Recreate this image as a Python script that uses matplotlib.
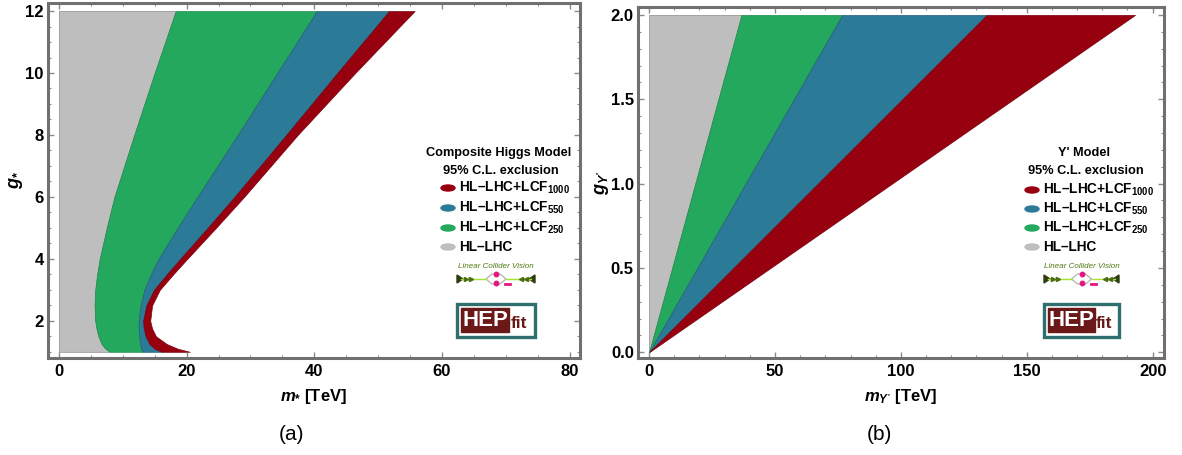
import matplotlib
matplotlib.use("Agg")
import matplotlib.pyplot as plt
from matplotlib.patches import Rectangle, Ellipse, Polygon
from matplotlib.ticker import MultipleLocator

plt.rcParams["font.family"] = ["Liberation Sans", "DejaVu Sans"]
plt.rcParams["mathtext.fontset"] = "custom"
plt.rcParams["mathtext.rm"] = "Liberation Sans:bold"
plt.rcParams["mathtext.bf"] = "Liberation Sans:bold"
plt.rcParams["mathtext.it"] = "Liberation Sans:bold:italic"

# --- data ---------------------------------------------------------------------------
# (a) composite Higgs: right edge of each excluded region, m_* [TeV] vs g_*
g_star = [1, 1.1, 1.25, 1.5, 1.75, 2, 2.5, 3, 3.5, 4, 5, 6, 8, 10, 12]
m_hl = [8.0, 7.3, 6.7, 6.2, 5.9, 5.7, 5.6, 5.7, 6.0, 6.4, 7.5, 8.7, 11.8, 15.0, 18.3]
m_250 = [13.2, 12.9, 12.7, 12.6, 12.5, 12.5, 12.8, 13.4, 14.4, 15.6, 18.6, 21.7, 28.0, 34.2, 40.4]
m_550 = [16.1, 15.0, 14.2, 13.6, 13.3, 13.2, 13.7, 14.9, 16.9, 19.0, 23.3, 27.5, 35.6, 43.6, 51.7]
m_1000 = [20.5, 18.6, 16.9, 15.2, 14.6, 14.3, 14.6, 15.8, 17.9, 20.1, 24.6, 29.0, 37.4, 46.4, 55.7]

# (b) Y' model: wedges from the origin, edge at g_Y' = 0 and 2
g_y = [0, 2]
my_hl = [0, 36.7]
my_250 = [0, 76.7]
my_550 = [0, 134.1]
my_1000 = [0, 193.0]

labels = ["HL\u2013LHC+LCF$_{1000}$", "HL\u2013LHC+LCF$_{550}$",
          "HL\u2013LHC+LCF$_{250}$", "HL\u2013LHC"]
RED, BLUE, GREEN, GRAY = "#96000f", "#2b7a98", "#24a85d", "#bebebe"
colors = [RED, BLUE, GREEN, GRAY]
FRAME = "#707070"
W, H = 1182, 455

fig = plt.figure(figsize=(W / 100, H / 100), dpi=100)
axa = fig.add_axes([48 / W, 1 - 358 / H, 532 / W, 355 / H])
axb = fig.add_axes([638 / W, 1 - 358 / H, 526 / W, 351 / H])


def fill_regions(ax, y, edges):
    left = [0] * len(y)
    fills = [GRAY, GREEN, BLUE, RED]
    lines = ["#8c8c8c", "#1d8a4c", "#235f77", "#7a000c"]
    for right, c, lc in zip(edges, fills, lines):
        ax.fill_betweenx(y, left, right, color=c, edgecolor=lc, linewidth=0.5)
        left = right


fill_regions(axa, g_star, [m_hl, m_250, m_550, m_1000])
fill_regions(axb, g_y, [my_hl, my_250, my_550, my_1000])

axa.set_xlim(-1.7, 81.6)
axa.set_ylim(0.8, 12.26)
axa.xaxis.set_major_locator(MultipleLocator(20))
axa.xaxis.set_minor_locator(MultipleLocator(5))
axa.yaxis.set_major_locator(MultipleLocator(2))
axa.yaxis.set_minor_locator(MultipleLocator(0.5))
axa.set_xlabel(r"$m_{*}$ [TeV]", fontsize=12, fontweight="bold", labelpad=6)
axa.set_ylabel(r"$g_{*}$", fontsize=13, labelpad=0)

axb.set_xlim(-4.4, 204.5)
axb.set_ylim(-0.034, 2.047)
axb.xaxis.set_major_locator(MultipleLocator(50))
axb.xaxis.set_minor_locator(MultipleLocator(10))
axb.yaxis.set_major_locator(MultipleLocator(0.5))
axb.yaxis.set_minor_locator(MultipleLocator(0.1))
axb.set_yticks([0, 0.5, 1.0, 1.5, 2.0])
axb.set_yticklabels(["0.0", "0.5", "1.0", "1.5", "2.0"])
axb.set_xlabel(r"$m_{Y'}$ [TeV]", fontsize=12, fontweight="bold", labelpad=6)
axb.set_ylabel(r"$g_{Y'}$", fontsize=13, labelpad=0)

for ax in (axa, axb):
    for s in ax.spines.values():
        s.set_color(FRAME)
        s.set_linewidth(2.2)
    ax.tick_params(which="both", direction="in", top=True, right=True, color="#8a8a8a")
    ax.tick_params(which="major", length=4, width=1, labelsize=12, pad=4)
    ax.tick_params(which="minor", length=2, width=0.8)
    ax.tick_params(axis="y", pad=3)
    for t in ax.get_xticklabels() + ax.get_yticklabels():
        t.set_fontweight("bold")

# overlay in pixel coordinates for legends, logos and panel tags
ov = fig.add_axes([0, 0, 1, 1], zorder=5)
ov.set_xlim(0, W)
ov.set_ylim(H, 0)
ov.axis("off")


def legend_block(title, title_x, mark_x, text_x, rows_y, logo_x0, logo_x1):
    ov.text(title_x, 153, title, ha="center", va="center", fontsize=9.2, fontweight="bold")
    ov.text(title_x + 2, 171, "95% C.L. exclusion", ha="center", va="center",
            fontsize=9.2, fontweight="bold")
    for lab, c, y in zip(labels, colors, rows_y):
        ov.add_patch(Ellipse((mark_x, y), 14, 6, color=c))
        ov.text(text_x, y, lab, ha="left", va="center", fontsize=9.8, fontweight="bold")

    # Linear Collider Vision logo
    cx = (logo_x0 + logo_x1) / 2
    ov.text(cx, 267, "Linear Collider Vision", ha="center", va="center",
            fontsize=5.8, style="italic", color="#4f7a12")
    y = 279
    ov.plot([logo_x0 + 4, cx - 10], [y, y], color="#a6e22e", lw=1.0)
    ov.plot([cx + 10, logo_x1 - 4], [y, y], color="#a6e22e", lw=1.0)
    ov.add_patch(Polygon([[cx - 10, y], [cx - 4, y - 5], [cx + 4, y - 5], [cx + 10, y],
                          [cx + 4, y + 5], [cx - 4, y + 5]], closed=True,
                         fill=False, edgecolor="#aaaaaa", lw=0.8))
    ov.add_patch(Polygon([[logo_x0, y - 4], [logo_x0 + 6, y], [logo_x0, y + 4]],
                         color="#2f3d10"))
    ov.add_patch(Polygon([[logo_x1, y - 4], [logo_x1 - 6, y], [logo_x1, y + 4]],
                         color="#2f3d10"))
    for dx in (9, 14):
        ov.plot([logo_x0 + dx], [y], marker=">", ms=3, color="#4a6e14")
        ov.plot([logo_x1 - dx], [y], marker="<", ms=3, color="#4a6e14")
    ov.plot([cx, cx], [y - 5, y + 4], "o", ms=3.2, color="#e6157f")
    ov.plot([cx + 9, cx + 14], [y + 5, y + 5], color="#e6157f", lw=2)

    # HEPfit logo
    ov.add_patch(Rectangle((logo_x0, 304), logo_x1 - logo_x0, 33, facecolor="white",
                           edgecolor="#2f6f6e", lw=2.4))
    wb = (logo_x1 - logo_x0) * 0.62
    ov.add_patch(Rectangle((logo_x0 + 4, 308), wb, 24, color="#6b1818"))
    ov.text(logo_x0 + 4 + wb / 2, 320.5, "HEP", ha="center", va="center",
            fontsize=16, fontweight="bold", color="white")
    ov.text(logo_x0 + 4 + wb + 1.5, 324, "fit", ha="left", va="center",
            fontsize=12.5, fontweight="bold", color="#6b1818")


legend_block("Composite Higgs Model", 499, 448, 459, [188, 208, 228, 247], 457, 535)
legend_block("Y' Model", 1084, 1032, 1043, [190, 209, 228, 247], 1044, 1119)

ov.text(292, 434, "(a)", ha="center", va="center", fontsize=15)
ov.text(879, 434, "(b)", ha="center", va="center", fontsize=15)

fig.savefig("out.png", dpi=100)
